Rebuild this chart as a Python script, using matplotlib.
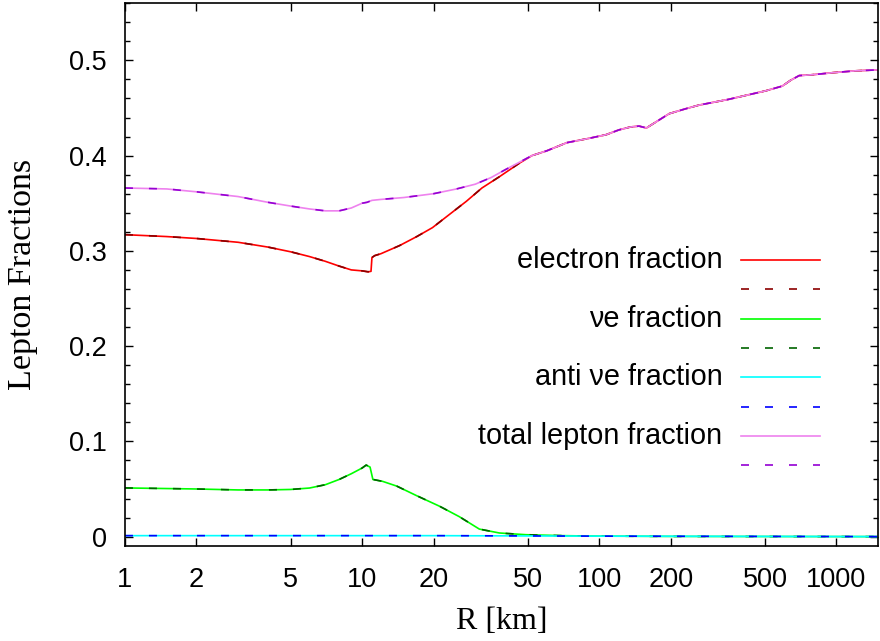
import numpy as np
import matplotlib.pyplot as plt
from matplotlib.lines import Line2D

# radius grid [km] and lepton fractions
r_tot = [1, 1.5, 2, 3, 4, 5, 6, 7, 8, 9, 10, 10.5, 11, 12, 15, 20, 25, 30, 35, 40,
         46, 52, 60, 73, 90, 107, 121, 135, 147, 158, 170, 197, 230, 263, 350, 503,
         591, 640, 696, 800, 960, 1200, 1500]
y_tot = [0.366, 0.365, 0.362, 0.357, 0.351, 0.347, 0.344, 0.342, 0.342, 0.345,
         0.350, 0.351, 0.353, 0.354, 0.356, 0.360, 0.365, 0.370, 0.377, 0.385,
         0.393, 0.400, 0.405, 0.4136, 0.418, 0.422, 0.427, 0.430, 0.431, 0.429,
         0.434, 0.444, 0.449, 0.453, 0.459, 0.468, 0.473, 0.479, 0.484, 0.485,
         0.487, 0.489, 0.490]

r_ele = [1, 1.5, 2, 3, 4, 5, 6, 7, 8, 9, 10, 10.6, 10.9, 11.0, 11.3, 12, 14.4, 17,
         19.8, 23, 27.5, 32, 38, 46, 52, 60, 73, 90, 107, 121, 135, 147, 158, 170,
         197, 230, 263, 350, 503, 591, 640, 696, 800, 960, 1200, 1500]
y_ele = [0.317, 0.315, 0.313, 0.309, 0.304, 0.299, 0.294, 0.289, 0.284, 0.280,
         0.279, 0.278, 0.2785, 0.293, 0.295, 0.297, 0.3056, 0.315, 0.3244, 0.337,
         0.352, 0.366, 0.378, 0.392, 0.400, 0.405, 0.4136, 0.418, 0.422, 0.427,
         0.430, 0.431, 0.429, 0.434, 0.444, 0.449, 0.453, 0.459, 0.468, 0.473,
         0.479, 0.484, 0.485, 0.487, 0.489, 0.490]

r_nue = [1, 2, 3, 4, 5, 6, 7, 8, 9, 10, 10.4, 10.8, 11.1, 12.2, 14, 16.9, 21.2,
         25.7, 31.2, 37.9, 49, 70, 100, 200, 1500]
y_nue = [0.0511, 0.050, 0.049, 0.049, 0.0495, 0.051, 0.0545, 0.060, 0.066, 0.072,
         0.0751, 0.073, 0.060, 0.058, 0.053, 0.0432, 0.0319, 0.0209, 0.0079,
         0.0038, 0.002, 0.001, 0.0005, 0.0002, 0.0]

r_anue = [1, 20, 100, 1500]
y_anue = [0.001, 0.001, 0.0005, 0.0]

labels = ['electron fraction', 'νe fraction', 'anti νe fraction', 'total lepton fraction']
solid_colors = ['#ff0000', '#00ff00', '#00ffff', '#ee82ee']
dash_colors = ['#8b0000', '#006400', '#0000ff', '#9400d3']

xticks = [1, 2, 5, 10, 20, 50, 100, 200, 500, 1000]

fig = plt.figure(figsize=(8.8, 6.41), dpi=100)
ax = fig.add_axes([0.142, 0.148, 0.856, 0.847])

series = [(r_ele, y_ele), (r_nue, y_nue), (r_anue, y_anue), (r_tot, y_tot)]
lw = 1.2
dash = (4.8, 9.6)
for (r, y), cs, cd in zip(series, solid_colors, dash_colors):
    ax.plot(r, y, color=cs, lw=lw)
    ax.plot(r, y, color=cd, lw=lw, dashes=dash)

ax.set_xscale('log')
ax.set_xlim(1, 1500)
ax.set_ylim(-0.01, 0.55)
ax.set_xticks(xticks)
ax.set_xticklabels([str(t) for t in xticks])
ax.xaxis.set_minor_locator(plt.NullLocator())
ax.set_yticks([0, 0.1, 0.2, 0.3, 0.4, 0.5])
ax.set_yticklabels(['0', '0.1', '0.2', '0.3', '0.4', '0.5'])
ax.set_yticks(np.arange(0, 0.56, 0.02), minor=True)

tick_font = 'Liberation Sans'
ax.tick_params(which='both', direction='in', top=True, right=True, width=1.0)
ax.tick_params(which='major', length=6)
ax.tick_params(which='minor', length=3.5)
ax.tick_params(axis='y', pad=13)
ax.tick_params(axis='x', pad=15)
for lab in ax.get_xticklabels() + ax.get_yticklabels():
    lab.set_fontfamily(tick_font)
    lab.set_fontsize(19.5)
for s in ax.spines.values():
    s.set_linewidth(1.2)

ax.set_xlabel('R [km]', fontfamily='Liberation Serif', fontsize=23, labelpad=10)
ax.set_ylabel('Lepton Fractions', fontfamily='Liberation Serif', fontsize=24.5, labelpad=22)

# key drawn in axes coordinates, text right aligned next to sample lines
y0 = 0.527
step = 0.054
for i, (lab, cs, cd) in enumerate(zip(labels, solid_colors, dash_colors)):
    yy = y0 - 2 * i * step
    ax.add_line(Line2D([0.818, 0.923], [yy, yy], color=cs, lw=lw, transform=ax.transAxes))
    ax.add_line(Line2D([0.818, 0.923], [yy - step, yy - step], color=cd, lw=lw,
                       dashes=dash, transform=ax.transAxes))
    ax.text(0.793, yy, lab, transform=ax.transAxes, ha='right', va='center',
            fontfamily=tick_font, fontsize=20.8)

fig.savefig('out.png', dpi=100)
